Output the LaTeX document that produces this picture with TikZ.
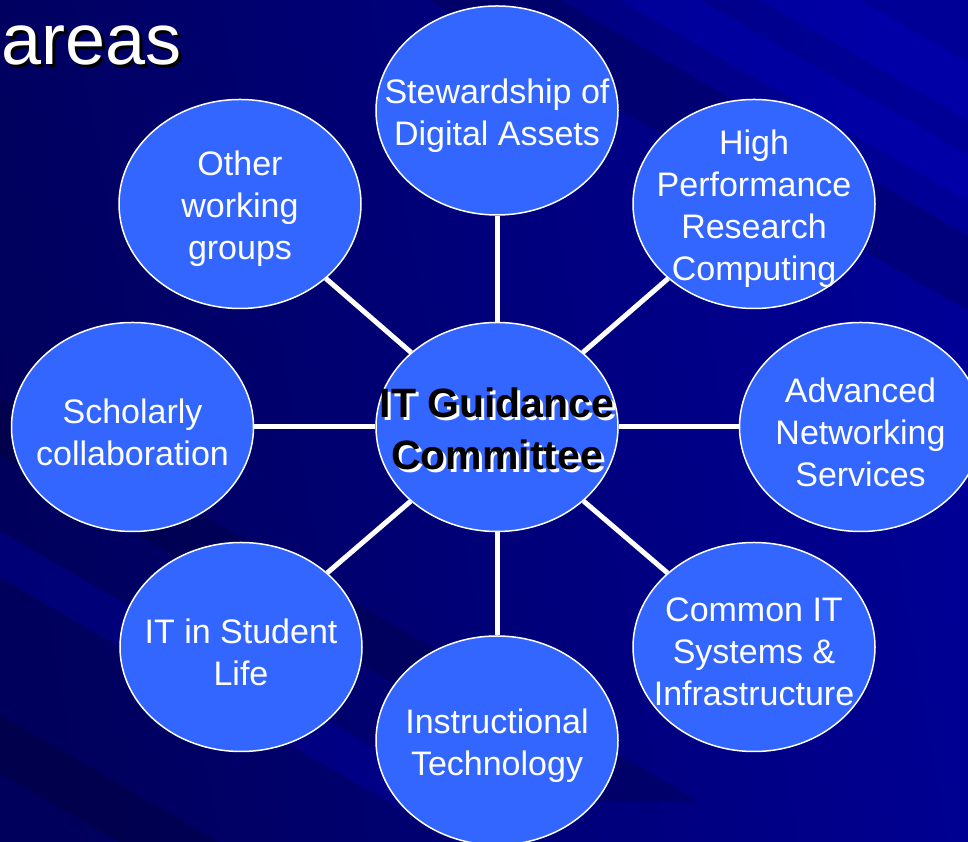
\documentclass[tikz,border=0pt]{standalone}
\usepackage{fontspec}
\setmainfont{Liberation Sans}
\usetikzlibrary{shapes.geometric,positioning}

\pgfdeclarelayer{bg}
\pgfdeclarelayer{spokes}
\pgfsetlayers{bg,spokes,main}

\definecolor{slidedeep}{RGB}{0,0,92}
\definecolor{slidelight}{RGB}{0,0,150}
\definecolor{bubblefill}{RGB}{51,102,255}

\tikzset{
  bubble/.style={ellipse, draw=white, line width=1.5pt, fill=bubblefill,
    minimum width=242pt, minimum height=209pt, inner sep=0pt},
  bubtext/.style={text=white, align=center, inner sep=0pt, yshift=-5pt,
    font=\fontsize{34}{42}\selectfont},
  hubtext/.style={align=center, inner sep=0pt, yshift=-2pt,
    font=\fontsize{41}{52}\selectfont\bfseries},
  spoke/.style={draw=white, line width=5pt},
  streak/.style={fill=#1, opacity=0.16}
}

\begin{document}
\begin{tikzpicture}[x=1pt,y=1pt]
  \useasboundingbox (0,0) rectangle (968,842);

  %the slide background with its diagonal streaks
  \begin{pgfonlayer}{bg}
    \shade[left color=slidedeep, right color=slidelight, shading angle=100]
      (0,0) rectangle (968,842);
    \begin{scope}
      \clip (0,0) rectangle (968,842);
      \fill[streak=black] (430,842) -- (560,842) -- (1460,322) -- (1330,322) -- cycle;
      \fill[streak=blue] (620,842) -- (700,842) -- (1600,322) -- (1520,322) -- cycle;
      \fill[streak=blue] (760,842) -- (860,842) -- (1760,322) -- (1660,322) -- cycle;
      \fill[streak=black] (-300,560) -- (-200,560) -- (700,40) -- (600,40) -- cycle;
      \fill[streak=blue] (-200,380) -- (-120,380) -- (780,-140) -- (700,-140) -- cycle;
      \fill[streak=black] (-400,300) -- (-300,300) -- (600,-220) -- (500,-220) -- cycle;
    \end{scope}
  \end{pgfonlayer}

  %title, cut at the left edge of the slide
  \node[anchor=base west, inner sep=0pt, text=black,
        font=\fontsize{72}{80}\selectfont] (title-s) at (4,774) {areas};
  \node[anchor=base west, inner sep=0pt, text=white,
        font=\fontsize{72}{80}\selectfont] (title) at (1,777) {areas};

  %the hub and the working groups round it
  \node[bubble] (igc) at (497,415) {};
  \node[bubble, above=106pt of igc] (stew) {};
  \node[bubble, below=103pt of igc] (inst) {};
  \node[bubble, left=121pt of igc] (schol) {};
  \node[bubble, right=120pt of igc] (anet) {};
  \node[bubble] (hpc) at (754,638) {};
  \node[bubble] (cits) at (754,195) {};
  \node[bubble] (stud) at (241,195) {};
  \node[bubble] (other) at (240,638) {};

  %labels of the bubbles
  \node[hubtext, text=white] (igc-s) at ([shift={(3,-3)}]igc) {IT Guidance\\Committee};
  \node[hubtext, text=black] (igc-t) at (igc) {IT Guidance\\Committee};
  \node[bubtext] (stew-t) at (stew) {Stewardship of\\Digital Assets};
  \node[bubtext] (hpc-t) at (hpc) {High\\Performance\\Research\\Computing};
  \node[bubtext] (anet-t) at (anet) {Advanced\\Networking\\Services};
  \node[bubtext] (cits-t) at (cits) {Common IT\\Systems \&\\Infrastructure};
  \node[bubtext] (inst-t) at (inst) {Instructional\\Technology};
  \node[bubtext] (stud-t) at (stud) {IT in Student\\Life};
  \node[bubtext] (schol-t) at (schol) {Scholarly\\collaboration};
  \node[bubtext] (other-t) at (other) {Other\\working\\groups};

  %spokes from the hub
  \begin{pgfonlayer}{spokes}
    \draw[spoke] (igc) -- (stew);
    \draw[spoke] (igc) -- (hpc);
    \draw[spoke] (igc) -- (anet);
    \draw[spoke] (igc) -- (cits);
    \draw[spoke] (igc) -- (inst);
    \draw[spoke] (igc) -- (stud);
    \draw[spoke] (igc) -- (schol);
    \draw[spoke] (igc) -- (other);
  \end{pgfonlayer}
\end{tikzpicture}
\end{document}
